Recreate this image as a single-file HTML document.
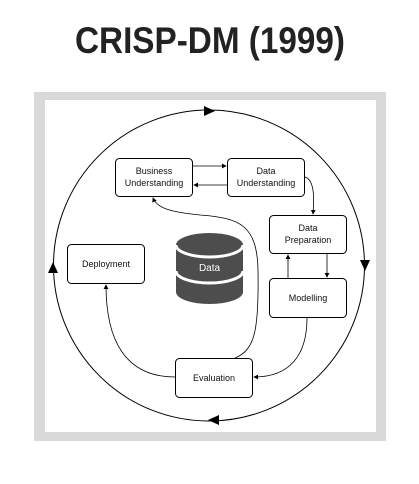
<!DOCTYPE html>
<html><head><meta charset="utf-8"><style>
html,body{margin:0;padding:0;background:#fff;width:419px;height:484px;overflow:hidden}
</style></head><body>
<svg width="419" height="484" viewBox="0 0 419 484" xmlns="http://www.w3.org/2000/svg" font-family="Liberation Sans, sans-serif">
<text x="210" y="53" text-anchor="middle" font-size="37" font-weight="bold" fill="#222" textLength="270" lengthAdjust="spacingAndGlyphs">CRISP-DM (1999)</text>
<rect x="34" y="92" width="352" height="349" fill="#d9d9d9"/>
<rect x="45" y="100" width="331" height="332" fill="#fff"/>
<defs><marker id="a" markerWidth="6" markerHeight="6" refX="5" refY="3" orient="auto"><path d="M0,0 L6,3 L0,6 z" fill="#000"/></marker></defs>
<circle cx="209" cy="265.5" r="155.5" fill="none" stroke="#000" stroke-width="1"/>
<path d="M204,106 L215,111 L204,116z"/>
<path d="M360,260 L370,260 L365,271z"/>
<path d="M219,415 L219,425 L208,420z"/>
<path d="M48,273 L58,273 L53,262z"/>
<g fill="#fff" stroke="#000" stroke-width="1">
<rect x="115.5" y="158.5" width="77" height="38" rx="4"/>
<rect x="227.5" y="158.5" width="77" height="38" rx="4"/>
<rect x="269.5" y="215.5" width="77" height="38" rx="4"/>
<rect x="269.5" y="278.5" width="77" height="39" rx="4"/>
<rect x="175.5" y="358.5" width="77" height="39" rx="4"/>
<rect x="67.5" y="244.5" width="77" height="39" rx="4"/>
</g>
<g fill="none" stroke="#000" stroke-width="0.8" marker-end="url(#a)">
<path d="M193,166 L226,166"/>
<path d="M227,185 L194,185"/>
<path d="M305,177 C315,180 314,200 313,214"/>
<path d="M327,254 L327,277"/>
<path d="M288,278 L288,255"/>
<path d="M307,318 C307,355 290,377 254,377"/>
<path d="M175,377 C125,377 106,340 106,285"/>
<path d="M235,358 C255,350 259,330 258,270 C257,225 240,218 200,215 C170,212 157,208 153,198"/>
</g>
<g font-size="9" text-anchor="middle" fill="#111">
<text x="154" y="174">Business</text><text x="154" y="186">Understanding</text>
<text x="266" y="174">Data</text><text x="266" y="186">Understanding</text>
<text x="308" y="231">Data</text><text x="308" y="243">Preparation</text>
<text x="308" y="301">Modelling</text>
<text x="214" y="381">Evaluation</text>
<text x="106" y="267">Deployment</text>
</g>
<g fill="#4d4d4d">
<path d="M176,245 L176,292 A33.5,12 0 0 0 243,292 L243,245z"/>
<ellipse cx="209.5" cy="245" rx="33.5" ry="12"/>
</g>
<path d="M176,245 A33.5,12 0 0 0 243,245" fill="none" stroke="#fff" stroke-width="3"/>
<path d="M176,271 A33.5,12 0 0 0 243,271" fill="none" stroke="#fff" stroke-width="3"/>
<text x="209.5" y="271" font-size="10" text-anchor="middle" fill="#fff">Data</text>
</svg>
</body></html>
